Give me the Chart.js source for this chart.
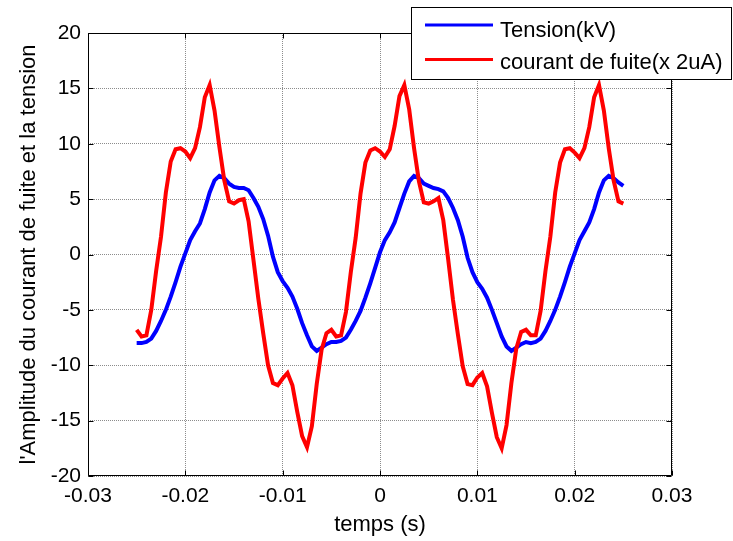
<!DOCTYPE html>
<html>
<head>
<meta charset="utf-8">
<script src="https://cdn.jsdelivr.net/npm/chart.js@4/dist/chart.umd.min.js"></script>
<style>
  html, body { margin: 0; padding: 0; background: #fff; }
  canvas { display: block; }
</style>
</head>
<body>
<canvas id="ampChart" width="733" height="541"></canvas>
<script>
// echantillonnage : premier instant et pas (s)
const tDebut = -0.025;
const pas = 0.0005;

// Tension (kV)
const tension = [
  -8.0, -8.0, -7.9, -7.6, -6.9, -6.0, -5.0, -3.8, -2.5, -1.1,
   0.1,  1.3,  2.1,  2.8,  4.1,  5.6,  6.7,  7.1,  6.9,  6.4,
   6.1,  6.0,  6.0,  5.8,  5.1,  4.3,  3.2,  1.7, -0.2, -1.6,
  -2.4, -3.0, -3.8, -4.9, -6.2, -7.3, -8.3, -8.7, -8.4, -8.1,
  -7.9,
  -7.9, -7.8, -7.5, -6.8, -6.0, -5.1, -3.9, -2.6, -1.2,  0.2,
   1.3,  2.0,  2.9,  4.2,  5.5,  6.6,  7.1,  6.9,  6.4,  6.2,
   6.0,  5.9,  5.7,  5.1,  4.2,  3.1,  1.6, -0.3, -1.6, -2.5,
  -3.1, -3.9, -5.0, -6.2, -7.4, -8.3, -8.7, -8.4, -8.1, -7.9,
  -8.0, -7.9, -7.6, -6.9, -6.0, -5.0, -3.8, -2.5, -1.1,  0.1,
   1.3,  2.1,  2.9,  4.1,  5.6,  6.7,  7.1,  6.9,  6.5,  6.2
];

// courant de fuite (x 2uA)
const courant = [
  -6.8, -7.4, -7.3, -5.0, -1.5,  1.6,  5.6,  8.4,  9.5,  9.6,
   9.3,  8.7,  9.6, 11.5, 14.2, 15.3, 13.0,  9.7,  6.7,  4.8,
   4.6,  4.9,  5.0,  3.0, -0.5, -4.0, -7.1, -10.0, -11.6, -11.8,
  -11.2, -10.7, -11.8, -14.2, -16.4, -17.4, -15.5, -11.7, -8.6, -7.1,
  -6.8,
  -7.4, -7.3, -5.2, -1.6,  1.5,  5.5,  8.3,  9.4,  9.6,  9.3,
   8.8,  9.5, 11.6, 14.3, 15.3, 13.1,  9.6,  6.6,  4.7,  4.6,
   4.8,  5.1,  3.1, -0.4, -4.1, -7.2, -10.1, -11.7, -11.8, -11.1,
  -10.7, -11.9, -14.3, -16.5, -17.5, -15.4, -11.6, -8.5, -7.0, -6.8,
  -7.3, -7.3, -5.1, -1.5,  1.6,  5.6,  8.3,  9.5,  9.6,  9.2,
   8.7,  9.6, 11.5, 14.2, 15.3, 13.0,  9.6,  6.7,  4.8,  4.6
];

const xTicks = [-0.03, -0.02, -0.01, 0, 0.01, 0.02, 0.03];
const yTicks = [-20, -15, -10, -5, 0, 5, 10, 15, 20];

const police = '"Liberation Sans", Arial, Helvetica, sans-serif';

const points = serie => serie.map((v, i) => ({ x: tDebut + i * pas, y: v }));

// cadre noir + petites graduations vers l'interieur (style matlab)
const cadre = {
  id: 'cadre',
  afterDatasetsDraw(chart) {
    const { ctx, chartArea: a, scales: { x, y } } = chart;
    const L = Math.round(a.left) + 0.5, R = Math.round(a.right) - 0.5;
    const T = Math.round(a.top) + 0.5, B = Math.round(a.bottom) - 0.5;
    ctx.save();
    ctx.strokeStyle = '#000';
    ctx.lineWidth = 1;
    ctx.beginPath();
    ctx.rect(L, T, R - L, B - T);
    xTicks.forEach(v => {
      const px = Math.round(x.getPixelForValue(v)) + 0.5;
      ctx.moveTo(px, B); ctx.lineTo(px, B - 5);
      ctx.moveTo(px, T); ctx.lineTo(px, T + 5);
    });
    yTicks.forEach(v => {
      const py = Math.round(y.getPixelForValue(v)) + 0.5;
      ctx.moveTo(L, py); ctx.lineTo(L + 5, py);
      ctx.moveTo(R, py); ctx.lineTo(R - 5, py);
    });
    ctx.stroke();
    ctx.restore();
  }
};

// legende encadree en haut a droite
const legende = {
  id: 'legende',
  afterDraw(chart) {
    const { ctx } = chart;
    const bx = 411.5, by = 7.5, bw = 320, bh = 72;
    ctx.save();
    ctx.fillStyle = '#fff';
    ctx.fillRect(bx, by, bw, bh);
    ctx.strokeStyle = '#000';
    ctx.lineWidth = 1;
    ctx.strokeRect(bx, by, bw, bh);
    const lignes = [25, 59.5];
    const bases = [36.5, 68.5];
    chart.data.datasets.forEach((ds, i) => {
      ctx.strokeStyle = ds.borderColor;
      ctx.lineWidth = 3;
      ctx.beginPath();
      ctx.moveTo(425, lignes[i]);
      ctx.lineTo(493, lignes[i]);
      ctx.stroke();
      ctx.fillStyle = '#000';
      ctx.font = '22px ' + police;
      ctx.textBaseline = 'alphabetic';
      ctx.textAlign = 'left';
      ctx.fillText(ds.label, 500, bases[i]);
    });
    ctx.restore();
  }
};

new Chart(document.getElementById('ampChart'), {
  type: 'line',
  data: {
    datasets: [{
      label: 'Tension(kV)',
      data: points(tension),
      borderColor: '#0000ff',
      borderWidth: 4,
      pointRadius: 0,
      order: 1
    }, {
      label: 'courant de fuite(x 2uA)',
      data: points(courant),
      borderColor: '#ff0000',
      borderWidth: 4,
      pointRadius: 0,
      order: 0
    }]
  },
  options: {
    responsive: false,
    animation: false,
    devicePixelRatio: 1,
    layout: { padding: { top: 33, right: 61, left: 0, bottom: 0 } },
    plugins: { legend: { display: false }, tooltip: { enabled: false } },
    scales: {
      x: {
        type: 'linear',
        min: -0.03,
        max: 0.03,
        afterBuildTicks: s => { s.ticks = xTicks.map(v => ({ value: v })); },
        afterFit: s => { s.height = 65; },
        grid: { color: 'rgba(0,0,0,0.45)', drawTicks: false },
        border: { display: false, dash: [1, 1] },
        ticks: {
          color: '#000',
          padding: 8,
          maxRotation: 0,
          font: { family: police, size: 21 },
          callback: v => String(Math.round(v * 100) / 100)
        },
        title: {
          display: true,
          text: 'temps (s)',
          color: '#000',
          font: { family: police, size: 22 },
          padding: { top: 0, bottom: 3 }
        }
      },
      y: {
        min: -20,
        max: 20,
        afterBuildTicks: s => { s.ticks = yTicks.map(v => ({ value: v })); },
        afterFit: s => { s.width = 88; },
        grid: { color: 'rgba(0,0,0,0.45)', drawTicks: false },
        border: { display: false, dash: [1, 1] },
        ticks: {
          color: '#000',
          padding: 7,
          font: { family: police, size: 21 }
        },
        title: {
          display: true,
          text: "l'Amplitude du courant de fuite et la tension",
          color: '#000',
          font: { family: police, size: 22 },
          padding: { top: 16, bottom: 0 }
        }
      }
    }
  },
  plugins: [cadre, legende]
});
</script>
</body>
</html>
